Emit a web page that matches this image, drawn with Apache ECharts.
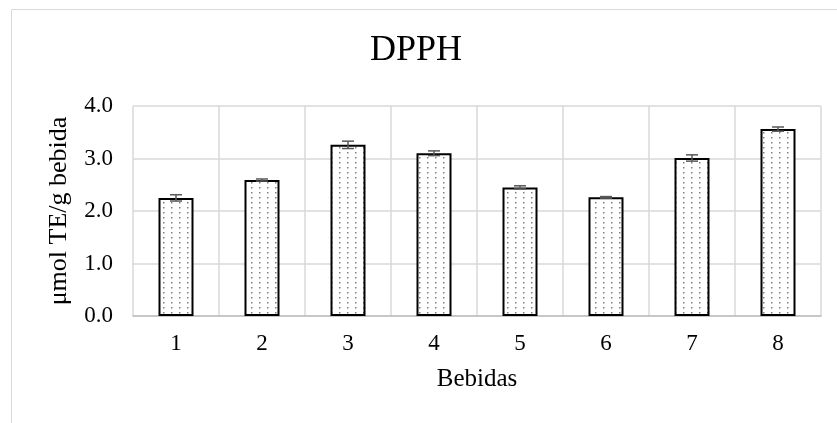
<!DOCTYPE html>
<html><head><meta charset="utf-8">
<script src="https://cdn.jsdelivr.net/npm/echarts@6/dist/echarts.min.js"></script>
<style>html,body{margin:0;padding:0;background:#fff}#c{width:837px;height:423px}</style>
</head><body><div id="c"></div>
<script>
var categories = ['1','2','3','4','5','6','7','8'];
var values = [2.25, 2.59, 3.26, 3.10, 2.45, 2.26, 3.01, 3.56];
var errors = [0.06, 0.02, 0.07, 0.045, 0.03, 0.015, 0.06, 0.04];
var yTicks = [0, 1, 2, 3, 4];

var pc = document.createElement('canvas');
pc.width = 8; pc.height = 10;
var pctx = pc.getContext('2d');
pctx.fillStyle = '#fff'; pctx.fillRect(0,0,8,10);
pctx.fillStyle = '#808080';
pctx.fillRect(3,2,1.5,1.5);
pctx.fillRect(3,7,1.5,1.5);

var serif = '"Liberation Serif", "Times New Roman", serif';
var chart = echarts.init(document.getElementById('c'));
chart.setOption({
  animation: false,
  graphic: [{type:'rect', shape:{x:11.5, y:9.5, width:840, height:430}, style:{fill:'none', stroke:'#d9d9d9', lineWidth:1}, silent:true, z:-1}],
  title: {text:'DPPH', left:411, top:28, textAlign:'center', textStyle:{fontFamily:serif, fontSize:36, fontWeight:'normal', color:'#000'}},
  grid: {left:133, right:16, top:106, bottom:107},
  xAxis: {
    type:'category', data:categories,
    name:'Bebidas', nameLocation:'middle', nameGap:51,
    nameTextStyle:{fontFamily:serif, fontSize:25, color:'#000'},
    axisLine:{show:true, lineStyle:{color:'#bfbfbf', width:1.5}},
    axisTick:{show:false},
    axisLabel:{fontFamily:serif, fontSize:23, color:'#000', margin:16},
    splitLine:{show:true, lineStyle:{color:'#d9d9d9', width:1.5}}
  },
  yAxis: {
    type:'value', min:yTicks[0], max:yTicks[yTicks.length-1], interval:1,
    name:'μmol TE/g bebida', nameLocation:'middle', nameGap:61,
    nameTextStyle:{fontFamily:serif, fontSize:26, color:'#000'},
    axisLine:{show:false}, axisTick:{show:false},
    axisLabel:{fontFamily:serif, fontSize:23, color:'#000', margin:20, formatter:function(v){return v.toFixed(1);}},
    splitLine:{show:true, lineStyle:{color:'#d9d9d9', width:1.5}}
  },
  series: [
    {type:'bar', data:values, barWidth:35,
     itemStyle:{color:{image:pc, repeat:'repeat'}, borderColor:'#000', borderWidth:2}},
    {type:'custom', z:10,
     data: values.map(function(v,i){return [i, v-errors[i], v+errors[i]];}),
     renderItem:function(params, api){
       var lo = api.coord([api.value(0), api.value(1)]);
       var hi = api.coord([api.value(0), api.value(2)]);
       var hw = 6;
       var st = {stroke:'#595959', lineWidth:1.5};
       return {type:'group', children:[
         {type:'line', shape:{x1:lo[0], y1:lo[1], x2:hi[0], y2:hi[1]}, style:st},
         {type:'line', shape:{x1:lo[0]-hw, y1:lo[1], x2:lo[0]+hw, y2:lo[1]}, style:st},
         {type:'line', shape:{x1:hi[0]-hw, y1:hi[1], x2:hi[0]+hw, y2:hi[1]}, style:st}
       ]};
     }}
  ]
});
</script></body></html>
